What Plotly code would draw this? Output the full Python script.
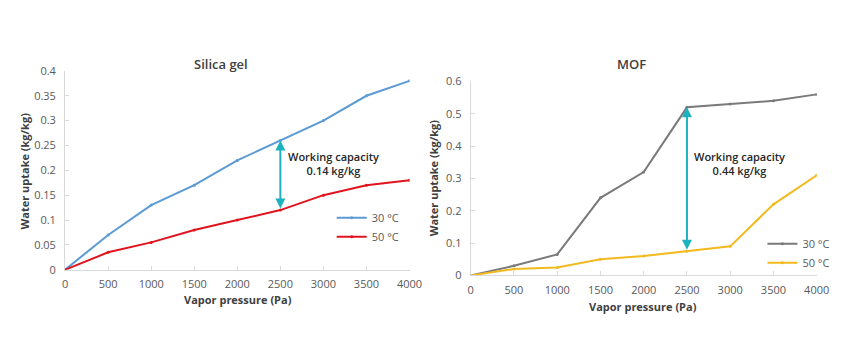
import plotly.graph_objects as go

pressure = [0, 500, 1000, 1500, 2000, 2500, 3000, 3500, 4000]
silica_30 = [0, 0.07, 0.13, 0.17, 0.22, 0.26, 0.30, 0.35, 0.38]
silica_50 = [0, 0.035, 0.055, 0.08, 0.10, 0.12, 0.15, 0.17, 0.18]
mof_30 = [0, 0.03, 0.065, 0.24, 0.32, 0.52, 0.53, 0.54, 0.56]
mof_50 = [0, 0.02, 0.025, 0.05, 0.06, 0.075, 0.09, 0.22, 0.31]
series_names = ["30 °C", "50 °C"]
x_ticks = [0, 500, 1000, 1500, 2000, 2500, 3000, 3500, 4000]
silica_yticks = [0, 0.05, 0.1, 0.15, 0.2, 0.25, 0.3, 0.35, 0.4]
mof_yticks = [0, 0.1, 0.2, 0.3, 0.4, 0.5, 0.6]
cap_x = 2500
silica_cap = [0.26, 0.12]
mof_cap = [0.52, 0.075]
silica_label = "Working capacity<br>0.14 kg/kg"
mof_label = "Working capacity<br>0.44 kg/kg"

W, H = 850, 354
FONT = "Open Sans"
BLUE, RED, GRAY, YEL, TEAL = "#5B9BD5", "#E0141E", "#7A7A7A", "#F2BA1E", "#1DB2C0"

def px(v):
    return v / W

def py(v):
    return 1 - v / H

fig = go.Figure()

def add(x, y, name, color, xa, ya, legend):
    fig.add_trace(go.Scatter(
        x=x, y=y, name=name, mode="lines+markers",
        line=dict(color=color, width=2),
        marker=dict(size=3, color=color),
        xaxis=xa, yaxis=ya, legend=legend))

add(pressure, silica_30, series_names[0], BLUE, "x", "y", "legend")
add(pressure, silica_50, series_names[1], RED, "x", "y", "legend")
add(pressure, mof_30, series_names[0], GRAY, "x2", "y2", "legend2")
add(pressure, mof_50, series_names[1], YEL, "x2", "y2", "legend2")

axis_common = dict(
    showgrid=False, zeroline=False, showline=True, linecolor="#D9D9D9",
    linewidth=1, ticks="inside", ticklen=4, tickcolor="#D9D9D9",
    tickfont=dict(family=FONT, size=11, color="#595959"),
)

fig.update_layout(
    width=W, height=H, autosize=False, margin=dict(l=0, r=0, t=0, b=0),
    paper_bgcolor="white", plot_bgcolor="white",
    xaxis=dict(domain=[px(63.3), px(414.3)], range=[0, 4000], tickvals=x_ticks,
               anchor="y", ticklabelstandoff=4, **axis_common),
    yaxis=dict(domain=[py(273.3), py(65.7)], range=[0, 0.4], tickvals=silica_yticks,
               ticktext=[f"{v:g}" for v in silica_yticks], anchor="x",
               ticklabelstandoff=6, **axis_common),
    xaxis2=dict(domain=[px(476.7), px(829.3)], range=[0, 4000], tickvals=x_ticks,
                anchor="y2", ticklabelstandoff=4, **axis_common),
    yaxis2=dict(domain=[py(279.3), py(76.7)], range=[0, 0.6], tickvals=mof_yticks,
                ticktext=[f"{v:g}" for v in mof_yticks], anchor="x2",
                ticklabelstandoff=6, **axis_common),
    legend=dict(x=px(335), y=py(204), xanchor="left", yanchor="top",
                font=dict(family=FONT, size=11, color="#595959"),
                bgcolor="rgba(0,0,0,0)", tracegroupgap=0),
    legend2=dict(x=px(774), y=py(231), xanchor="left", yanchor="top",
                 font=dict(family=FONT, size=11, color="#595959"),
                 bgcolor="rgba(0,0,0,0)", tracegroupgap=0),
    showlegend=True,
)

# capacity arrows
for xa, ya, vals in [("x", "y", silica_cap), ("x2", "y2", mof_cap)]:
    fig.add_annotation(x=cap_x, y=vals[0], ax=cap_x, ay=vals[1], xref=xa, yref=ya,
                       axref=xa, ayref=ya, text="", showarrow=True,
                       arrowside="end+start", arrowhead=2, arrowsize=1,
                       arrowwidth=2, arrowcolor=TEAL)

fig.add_annotation(x=3120, y=0.2145, xref="x", yref="y", text=silica_label,
                   showarrow=False, font=dict(family=FONT, size=11, color="#262626", weight=600),
                   align="center")
fig.add_annotation(x=3112, y=0.347, xref="x2", yref="y2", text=mof_label,
                   showarrow=False, font=dict(family=FONT, size=11, color="#262626", weight=600),
                   align="center")

title_font = dict(family=FONT, size=13, color="#404040", weight=600)
axt_font = dict(family=FONT, size=11, color="#404040", weight=700)
texts = [
    ("Silica gel", 222, 58, 0, title_font),
    ("MOF", 641, 58, 0, title_font),
    ("Water uptake (kg/kg)", 22, 170, -90, axt_font),
    ("Water uptake (kg/kg)", 439, 177, -90, axt_font),
    ("Vapor pressure (Pa)", 239, 304.5, 0, axt_font),
    ("Vapor pressure (Pa)", 652.5, 311.7, 0, axt_font),
]
for t, x, y, ang, f in texts:
    fig.add_annotation(x=px(x), y=py(y), xref="paper", yref="paper", text=t,
                       showarrow=False, textangle=ang, font=f,
                       xanchor="center", yanchor="middle")

fig.write_html("out.html")
